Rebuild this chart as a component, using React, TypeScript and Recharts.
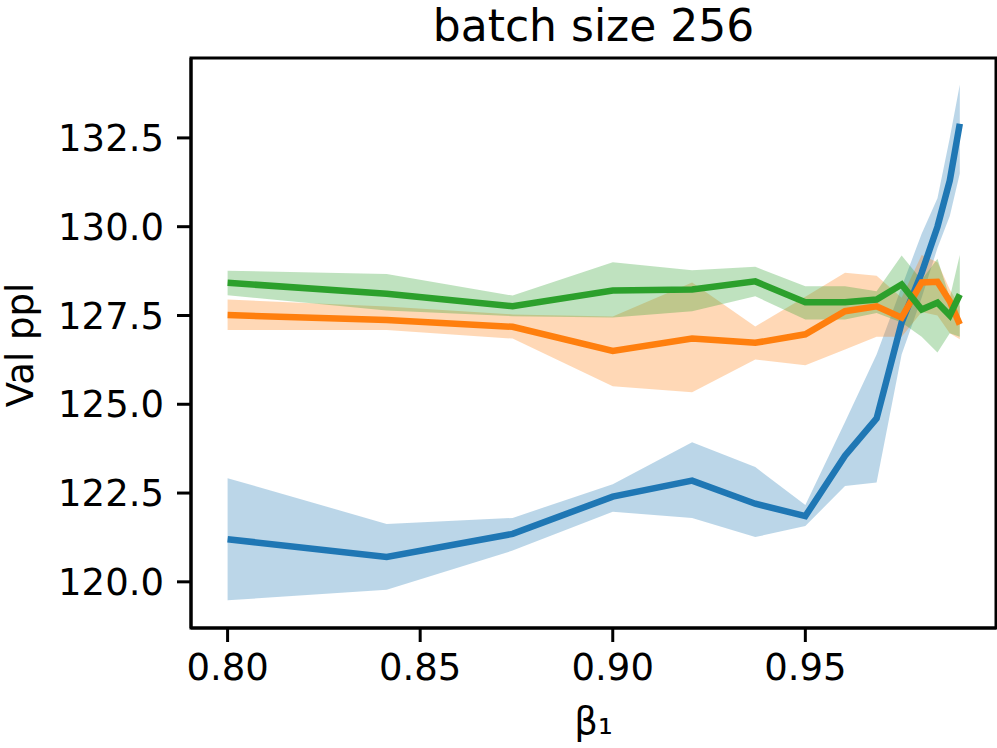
import React from "react";
import {Area, ComposedChart, Line, ReferenceArea, XAxis, YAxis} from "recharts";

const betas = [0.8, 0.8413, 0.874, 0.9, 0.9206, 0.937, 0.95, 0.9603, 0.9685, 0.975, 0.9802, 0.9843, 0.9875, 0.9901];

const blueMean = [121.2, 120.7, 121.35, 122.4, 122.85, 122.2, 121.85, 123.55, 124.6, 127.3, 128.7, 130.0, 131.3, 132.9];
const blueLo = [119.48, 119.78, 120.88, 121.97, 121.8, 121.26, 121.57, 122.7, 122.8, 126.4, 128.0, 129.4, 130.3, 131.5];
const blueHi = [122.92, 121.63, 121.8, 122.75, 123.93, 123.23, 122.16, 124.5, 126.4, 128.3, 129.8, 130.8, 132.5, 134.0];

const orangeMean = [127.51, 127.37, 127.18, 126.5, 126.85, 126.73, 126.97, 127.62, 127.76, 127.44, 128.43, 128.45, 127.9, 127.25];
const orangeLo = [127.09, 127.09, 126.85, 125.51, 125.34, 126.26, 126.1, 126.54, 126.9, 126.9, 127.6, 127.5, 127.0, 126.83];
const orangeHi = [127.95, 127.75, 127.53, 127.47, 128.43, 127.19, 128.03, 128.7, 128.62, 128.0, 129.2, 129.0, 128.23, 127.75];

const greenMean = [128.42, 128.11, 127.76, 128.2, 128.23, 128.46, 127.87, 127.87, 127.95, 128.37, 127.67, 127.86, 127.5, 128.09];
const greenLo = [128.07, 127.64, 127.48, 127.44, 127.62, 128.04, 127.39, 127.39, 127.57, 127.3, 126.9, 126.46, 127.0, 126.9];
const greenHi = [128.76, 128.67, 128.06, 129.0, 128.77, 128.87, 128.32, 128.32, 128.18, 129.19, 128.5, 129.1, 128.0, 129.2];

const xTicks = [0.8, 0.85, 0.9, 0.95];
const yTicks = [120.0, 122.5, 125.0, 127.5, 130.0, 132.5];

const X_DOMAIN = [0.7905, 0.9995];
const Y_DOMAIN = [118.7, 134.75];

const data = betas.map((b, i) => ({
    beta: b,
    blue: blueMean[i],
    blueBand: [blueLo[i], blueHi[i]],
    orange: orangeMean[i],
    orangeBand: [orangeLo[i], orangeHi[i]],
    green: greenMean[i],
    greenBand: [greenLo[i], greenHi[i]],
}));

const FONT = "DejaVu Sans";
const tickStyle = {fontSize: 37, fill: "#000", fontFamily: FONT};

const series = [
    {key: "blue", color: "#1f77b4"},
    {key: "orange", color: "#ff7f0e"},
    {key: "green", color: "#2ca02c"},
];

export default function App() {
    return (
        <div style={{position: "absolute", left: 0, top: 0, width: 997, height: 748, background: "#fff"}}>
            <div style={{
                position: "absolute", left: 191, width: 805, top: 0, textAlign: "center",
                fontFamily: FONT, fontSize: 44, lineHeight: "normal", color: "#000"
            }}>
                batch size 256
            </div>
            <ComposedChart width={997} height={748} data={data}
                           margin={{top: 58, right: 1, bottom: 0, left: 0}}>
                <XAxis dataKey="beta" type="number" domain={X_DOMAIN} allowDataOverflow
                       ticks={xTicks} tickFormatter={(v) => v.toFixed(2)}
                       height={120} tickSize={14} tickMargin={12}
                       stroke="#000" strokeWidth={3} tick={tickStyle}
                       tickLine={{stroke: "#000", strokeWidth: 3}}
                       label={{value: "β₁", position: "insideBottom", offset: 14, fontSize: 37, fill: "#000", fontFamily: FONT}}
                />
                <YAxis type="number" domain={Y_DOMAIN} allowDataOverflow ticks={yTicks}
                       tickFormatter={(v) => v.toFixed(1)} width={191} tickSize={14} tickMargin={13}
                       stroke="#000" strokeWidth={3} tick={tickStyle}
                       tickLine={{stroke: "#000", strokeWidth: 3}}
                       label={{
                           content: () => (
                               <text x={33} y={345} transform="rotate(-90 33 345)" textAnchor="middle"
                                     fontSize={37} fontFamily={FONT} fill="#000">Val ppl</text>
                           )
                       }}
                />
                {series.map((s) => (
                    <Area key={s.key + "Band"} type="linear" dataKey={s.key + "Band"} stroke="none"
                          fill={s.color} fillOpacity={0.3} isAnimationActive={false} activeDot={false}/>
                ))}
                {series.map((s) => (
                    <Line key={s.key} type="linear" dataKey={s.key} stroke={s.color} strokeWidth={6.5}
                          dot={false} activeDot={false} isAnimationActive={false}/>
                ))}
                <ReferenceArea x1={X_DOMAIN[0]} x2={X_DOMAIN[1]} y1={Y_DOMAIN[0]} y2={Y_DOMAIN[1]}
                               fill="none" fillOpacity={0} stroke="#000" strokeWidth={3} strokeOpacity={1}
                               ifOverflow="visible"/>
            </ComposedChart>
        </div>
    );
}
